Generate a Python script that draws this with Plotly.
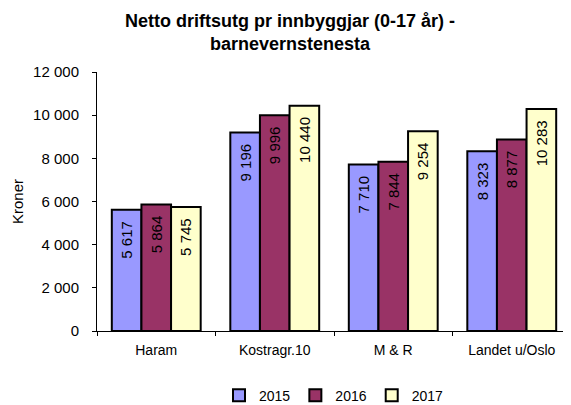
import plotly.graph_objects as go

categories = ["Haram", "Kostragr.10", "M & R", "Landet u/Oslo"]
years = ["2015", "2016", "2017"]
v2015 = [5617, 9196, 7710, 8323]
v2016 = [5864, 9996, 7844, 8877]
v2017 = [5745, 10440, 9254, 10283]
colors = ["#9999FF", "#993366", "#FFFFCC"]
y_ticks = [0, 2000, 4000, 6000, 8000, 10000, 12000]

FONT = "Liberation Sans, Arial, sans-serif"

fig = go.Figure()
for name, vals, col in zip(years, [v2015, v2016, v2017], colors):
    fig.add_trace(go.Bar(
        x=categories, y=vals, name=name,
        marker=dict(color=col, line=dict(color="black", width=2)),
        texttemplate="%{y:,d}\u00a0\u00a0",
        textposition="inside", insidetextanchor="end", textangle=-90,
        insidetextfont=dict(color="black", size=15, family=FONT),
        cliponaxis=False,
    ))

fig.update_layout(
    width=563, height=397,
    separators=", ",
    barmode="group", bargap=0.25, bargroupgap=0,
    paper_bgcolor="white", plot_bgcolor="white",
    font=dict(family=FONT, size=15, color="black"),
    margin=dict(l=89, r=0, t=64, b=74, autoexpand=False),
    title=dict(
        text="Netto driftsutg pr innbyggjar (0-17 år) -<br>barnevernstenesta",
        font=dict(size=18, family=FONT, color="black", weight="bold"),
        x=0.501, xref="container", xanchor="center",
        y=0.952, yref="container", yanchor="middle",
    ),
    showlegend=True,
    legend=dict(orientation="h", x=0.5, xanchor="center", y=-0.25, yanchor="middle",
                font=dict(size=14), itemwidth=30, traceorder="normal"),
    xaxis=dict(
        showline=True, linecolor="black", linewidth=1,
        ticks="outside", tickson="boundaries", ticklen=4, tickcolor="black",
        showgrid=False, range=[-0.5, 3.5], tickfont=dict(size=14),
        ticklabelstandoff=6, automargin=False,
    ),
    yaxis=dict(
        range=[0, 12000], tickvals=y_ticks, tickformat=",d",
        showline=True, linecolor="black", linewidth=1,
        ticks="outside", ticklen=4, tickcolor="black",
        showgrid=False, zeroline=False, tickfont=dict(size=15),
        ticklabelstandoff=10, automargin=False,
        title=dict(text="Kroner", font=dict(size=15), standoff=5),
    ),
)

fig.write_html("out.html")
